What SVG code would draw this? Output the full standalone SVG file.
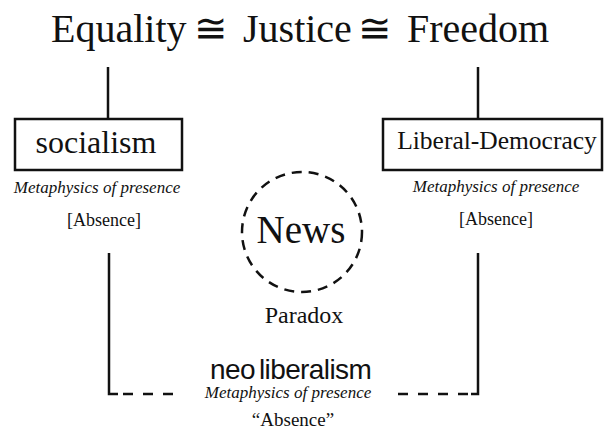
<svg xmlns="http://www.w3.org/2000/svg" width="605" height="432" viewBox="0 0 605 432">
<style>
text{font-family:"Liberation Serif","Times New Roman",serif;fill:#111;}
.t{font-size:40px;}
.c{text-anchor:middle;}
.it{font-style:italic;font-size:17px;text-anchor:middle;}
.ab{font-size:18px;text-anchor:middle;}
.box{fill:#fff;stroke:#111;stroke-width:2.5;}
.ln{fill:none;stroke:#111;stroke-width:2.5;}
</style>
<rect width="605" height="432" fill="#fff"/>
<g id="title">
<text class="t" x="51" y="42">Equality</text>
<text class="t c" x="211" y="42">≅</text>
<text class="t" x="243" y="42">Justice</text>
<text class="t c" x="375" y="42">≅</text>
<text class="t" x="407" y="42">Freedom</text>
</g>
<g id="connectors">
<path class="ln" d="M108,67 V119"/>
<path class="ln" d="M478,67 V119"/>
<path class="ln" d="M109,253 V394 H118 M123,394 H133 M143,394 H153 M163,394 H173"/>
<path class="ln" d="M478,253 V394 H471 M458,394 H468 M438,394 H448 M418,394 H428 M398,394 H408"/>
</g>
<g id="socialism">
<rect class="box" x="15" y="119" width="167" height="51"/>
<text class="c" x="96" y="153" font-size="32">socialism</text>
<text class="it" x="97" y="193">Metaphysics of presence</text>
<text class="ab" x="104" y="226">[Absence]</text>
</g>
<g id="liberal-democracy">
<rect class="box" x="383" y="119" width="219" height="51"/>
<text class="c" x="497" y="149" font-size="25.5">Liberal-Democracy</text>
<text class="it" x="496" y="192">Metaphysics of presence</text>
<text class="ab" x="496" y="225">[Absence]</text>
</g>
<g id="news">
<circle cx="302" cy="232" r="60" fill="none" stroke="#111" stroke-width="2.5" stroke-dasharray="10 7"/>
<text class="c" x="301" y="243" font-size="39">News</text>
<text class="c" x="304" y="323" font-size="24">Paradox</text>
</g>
<g id="neoliberalism">
<text x="210" y="379" font-size="28" style="font-family:'Liberation Sans',Arial,sans-serif" letter-spacing="-0.6">neo<tspan dx="4">liberalism</tspan></text>
<text class="it" x="288" y="398">Metaphysics of presence</text>
<text class="c" x="293" y="426" font-size="19">“Absence”</text>
</g>
</svg>
